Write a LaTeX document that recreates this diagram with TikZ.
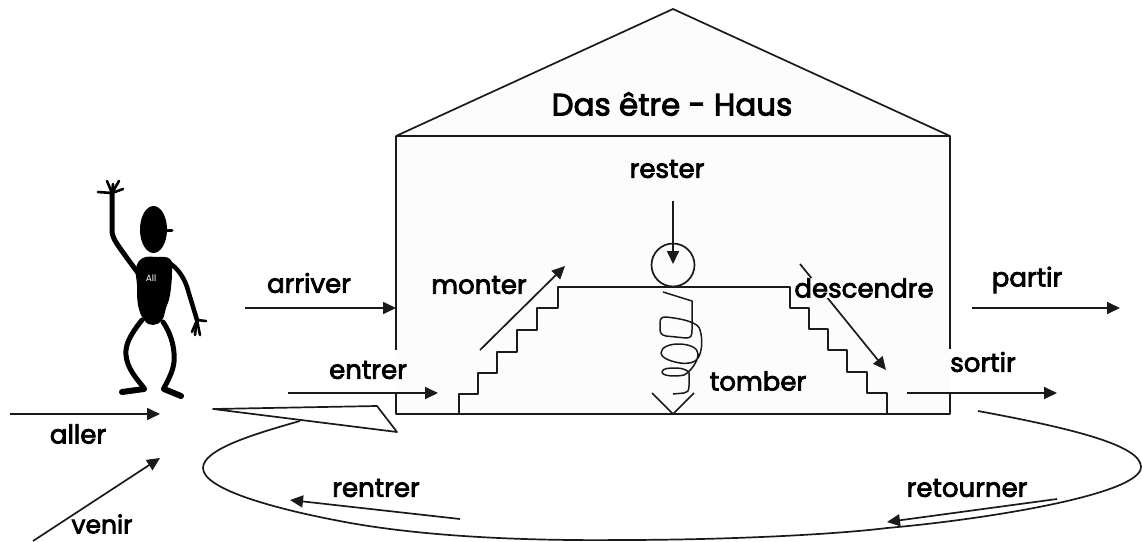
\documentclass[tikz,border=0pt]{standalone}
\usepackage{fontspec}
\setmainfont{Poppins}
\newfontfamily\wordfont[FakeBold=3]{Poppins}
\usetikzlibrary{arrows.meta}
\definecolor{ink}{HTML}{1A1A1A}
\definecolor{wallfill}{HTML}{FCFCFC}
\tikzset{
  thin line/.style={draw=ink,line width=1.7pt,line join=round},
  arr/.style={draw=ink,line width=1.7pt,-{Triangle[length=13pt,width=12pt]}},
  word/.style={text=black,font=\fontsize{26}{30}\wordfont,inner sep=0pt},
  halo/.style={fill=wallfill,inner xsep=1pt,inner ysep=0pt},
  body part/.style={draw=black,line width=5pt,line cap=round,line join=round},
  finger/.style={draw=black,line width=2.6pt,line cap=round},
}
\begin{document}
\begin{tikzpicture}[x=1pt,y=-1pt]
\useasboundingbox (0,0) rectangle (1142,541);
% house
\fill[wallfill] (396,136) -- (673,9) -- (950,136) -- (950,414) -- (396,414) -- cycle;
\draw[thin line] (396,136) -- (673,9) -- (950,136) -- cycle;
\draw[thin line] (396,136) -- (396,350);
\draw[thin line] (396,393) -- (396,414) -- (950,414) -- (950,393);
\draw[thin line] (950,136) -- (950,349);
% stairs
\draw[thin line] (459,414) -- (459,394) -- (478,394) -- (478,373) -- (497,373) -- (497,352) -- (517,352) -- (517,330) -- (537,330) -- (537,308) -- (558,308) -- (558,287) -- (790,287) -- (790,308) -- (809,308) -- (809,329) -- (828,329) -- (828,350) -- (847,350) -- (847,372) -- (867,372) -- (867,393) -- (887,393) -- (887,414);
% circle and spring
\node[draw=ink,line width=1.7pt,circle,minimum size=43pt,inner sep=0pt] (ball) at (673,265) {};
\coordinate (restertop) at (673,201);
\coordinate (resterend) at (673,264);
\draw[arr] (restertop) -- (resterend);
\draw[draw=ink,line width=1.5pt,line join=round] (663,292) -- (692,301) -- (692,330)
  .. controls (692,336) and (691,338) .. (686,338) -- (666,336)
  .. controls (661,335) and (660,333) .. (660,328) -- (660,323)
  .. controls (660,318) and (662,317) .. (666,317)
  .. controls (685,319) and (699,323) .. (700,330)
  .. controls (703,340) and (702,352) .. (698,358)
  .. controls (695,363) and (688,364) .. (680,363)
  .. controls (668,361) and (661,357) .. (661,353)
  .. controls (661,347) and (670,344) .. (678,344)
  .. controls (690,344) and (698,348) .. (698,354)
  .. controls (698,362) and (690,372) .. (684,375)
  .. controls (675,377) and (662,376) .. (662,372)
  .. controls (662,368) and (670,368) .. (676,368)
  .. controls (682,368) and (688,370) .. (689,373)
  -- (689,386) .. controls (689,391) and (687,393) .. (684,393) -- (673,394);
\coordinate (vleft) at (652,393);
\coordinate (vtip) at (673,414);
\coordinate (vright) at (694,393);
\draw[thin line] (vleft) -- (vtip) -- (vright);
% person
\fill[black] (153.5,229.5) ellipse (13.5pt and 23.5pt);
\draw[black,line width=3pt,line cap=round] (165,230) -- (172,230);
\fill[black] plot[smooth cycle,tension=0.7] coordinates {(143,258) (157,257) (170,259) (172,272) (170,295) (166,308) (162,320) (153,325) (144,320) (138,305) (137,285) (136,268)};
\draw[body part] (138,273) -- (127,258) .. controls (120,248) and (113,240) .. (112,232) -- (112,192);
\draw[finger] (112,193) -- (107,181);
\draw[finger] (112,193) -- (113,184);
\draw[finger] (112,193) -- (119,181);
\draw[finger] (112,193) -- (123,189);
\draw[finger] (112,193) -- (98,192);
\draw[black,line width=4.5pt,line cap=round,line join=round] (168,262) .. controls (178,268) and (184,278) .. (187,287) -- (197,320);
\draw[finger] (197,320) -- (206,321);
\draw[finger] (197,320) -- (192,332);
\draw[finger] (197,320) -- (195,335);
\draw[finger] (197,320) -- (200,335);
\draw[body part] (142,320) .. controls (130,335) and (125,345) .. (126,355) .. controls (127,368) and (136,378) .. (144,388);
\draw[black,line width=6pt,line cap=round] (144,389) -- (122,392);
\draw[body part] (163,322) .. controls (172,335) and (175,350) .. (174,362) .. controls (173,372) and (167,382) .. (164,388);
\draw[black,line width=6pt,line cap=round] (164,389) -- (181,396);
\node[text=white,font=\fontsize{9}{10}\selectfont,inner sep=0pt] (allname) at (151,278) {All};
% fold triangle + circuit
\draw[thin line] (213,409) -- (377,406) -- (397,432) -- cycle;
\draw[thin line] (300,421) .. controls (250,435) and (203,450) .. (203,468)
  .. controls (203,490) and (280,510) .. (345,522)
  .. controls (420,536) and (520,541) .. (620,540)
  .. controls (720,540) and (830,535) .. (887,528)
  .. controls (980,520) and (1141,495) .. (1141,467)
  .. controls (1141,445) and (1070,428) .. (978,411);
% labels
\node[word,font=\fontsize{31}{36}\wordfont] (haus) at (672,104) {Das être - Haus};
\node[word] (rester) at (667,169) {rester};
\node[word] (arriver) at (309,283) {arriver};
\node[word] (monter) at (479,285) {monter};
\node[word] (partir) at (1027,280) {partir};
\node[word] (entrer) at (368,370) {entrer};
\node[word] (sortir) at (983,362) {sortir};
\node[word] (tomber) at (758,381) {tomber};
\node[word] (aller) at (78,434) {aller};
\node[word,font=\fontsize{25}{30}\wordfont] (venir) at (102,524) {venir};
\node[word] (rentrer) at (376,488) {rentrer};
\node[word] (retourner) at (967,488) {retourner};
% arrows
\coordinate (a1) at (10,414); \coordinate (a2) at (160,414);
\draw[arr] (a1) -- (a2);
\coordinate (v1) at (33,541); \coordinate (v2) at (160,458);
\draw[arr] (v1) -- (v2);
\coordinate (ar1) at (245,308); \coordinate (ar2) at (396,308);
\draw[arr] (ar1) -- (ar2);
\coordinate (en1) at (288,393); \coordinate (en2) at (438,393);
\draw[arr] (en1) -- (en2);
\coordinate (mo1) at (480,350); \coordinate (mo2) at (565,266);
\draw[arr] (mo1) -- (mo2);
\coordinate (de1) at (800,264); \coordinate (de2) at (886,370);
\draw[arr] (de1) -- (de2);
\node[word,halo] (descendre) at (864,288) {descendre};
\coordinate (pa1) at (972,308); \coordinate (pa2) at (1120,308);
\draw[arr] (pa1) -- (pa2);
\coordinate (so1) at (907,393); \coordinate (so2) at (1057,393);
\draw[arr] (so1) -- (so2);
\coordinate (re1) at (460,519); \coordinate (re2) at (290,500);
\draw[arr] (re1) -- (re2);
\coordinate (ret1) at (1057,499); \coordinate (ret2) at (887,522);
\draw[arr] (ret1) -- (ret2);
\end{tikzpicture}
\end{document}
